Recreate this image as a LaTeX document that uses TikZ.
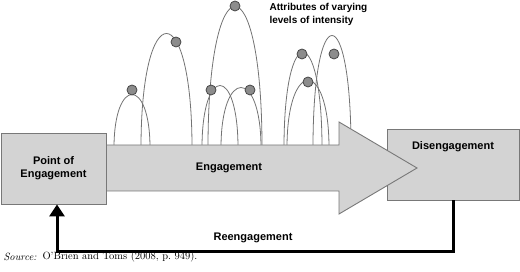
\documentclass[tikz,border=0pt]{standalone}
\usepackage{fontspec}
\newfontfamily\labelfont{Liberation Sans}
\usetikzlibrary{arrows.meta,positioning}
\definecolor{panel}{RGB}{211,211,211}
\definecolor{rim}{RGB}{120,120,120}
\definecolor{stem}{RGB}{115,115,115}
\definecolor{bead}{RGB}{140,140,140}
\definecolor{beadrim}{RGB}{70,70,70}
\tikzset{
  stage/.style={draw=rim,fill=panel,line width=0.9pt,align=center,
    font=\labelfont\fontsize{11}{13}\selectfont\bfseries,inner sep=0pt},
  tag/.style={font=\labelfont\fontsize{11}{13}\selectfont\bfseries,align=center},
  note/.style={font=\labelfont\fontsize{10}{13}\selectfont\bfseries,align=left},
  cite/.style={font=\fontsize{10.5}{12}\selectfont},
  attr/.style={draw=stem,line width=0.8pt},
  bead/.style={circle,draw=beadrim,fill=bead,line width=0.8pt,minimum size=10pt,inner sep=0pt},
  reengage/.style={-{Triangle[width=15pt,length=12pt]},line width=3pt,line join=miter},
}
% feet left / right, apex height, bead position
\def\arcs{114/150/94/132/90, 141/192/33/176/42, 208/262/6/235/6, 202/238/85/211/90,
  221/261/87/250/90, 284/322/52/302/54, 287/329/80/308/82, 313/351/35/334/54}

\begin{document}
\begin{tikzpicture}[x=1pt,y=-1pt]
  \useasboundingbox (0,0) rectangle (520,272);
  % attribute arcs, feet hidden under the arrow
  \foreach \l/\r/\h/\bx/\by in \arcs
    \draw[attr] (\l,148) .. controls (\l,{146-(146-\h)*4/3}) and (\r,{146-(146-\h)*4/3}) .. (\r,148);
  \foreach \l/\r/\h/\bx/\by [count=\i] in \arcs
    \node[bead] (b\i) at (\bx,\by) {};
  \node[note,anchor=west] (attrs) at (266,14) {Attributes of varying\\levels of intensity};

  \node[stage,minimum width=132pt,minimum height=71pt] (dis) at (453,164.5) {};
  \node[tag] (dis-t) at ([yshift=-18pt]dis.north) {Disengagement};

  \filldraw[draw=rim,fill=panel,line width=0.9pt,line join=miter]
    (106,145) -- (339,145) -- (339,122) -- (417,168) -- (339,214) -- (339,191) -- (106,191) -- cycle;
  \node[tag] (eng) at (229,168) {Engagement};

  \node[stage,minimum width=105pt,minimum height=71pt] (poe) at (53.5,168.5) {Point of\\Engagement};

  \draw[reengage] (dis.south) -- (dis.south |- 0,252) -| ([xshift=3.5pt]poe.south);
  \node[tag] (re) at (253,238) {Reengagement};

  \node[cite,anchor=west] (src) at (0,257) {\itshape Source:};
  \node[cite,anchor=west] (ref) at (39,257) {O'Brien and Toms (2008, p.~949).};
\end{tikzpicture}
\end{document}
